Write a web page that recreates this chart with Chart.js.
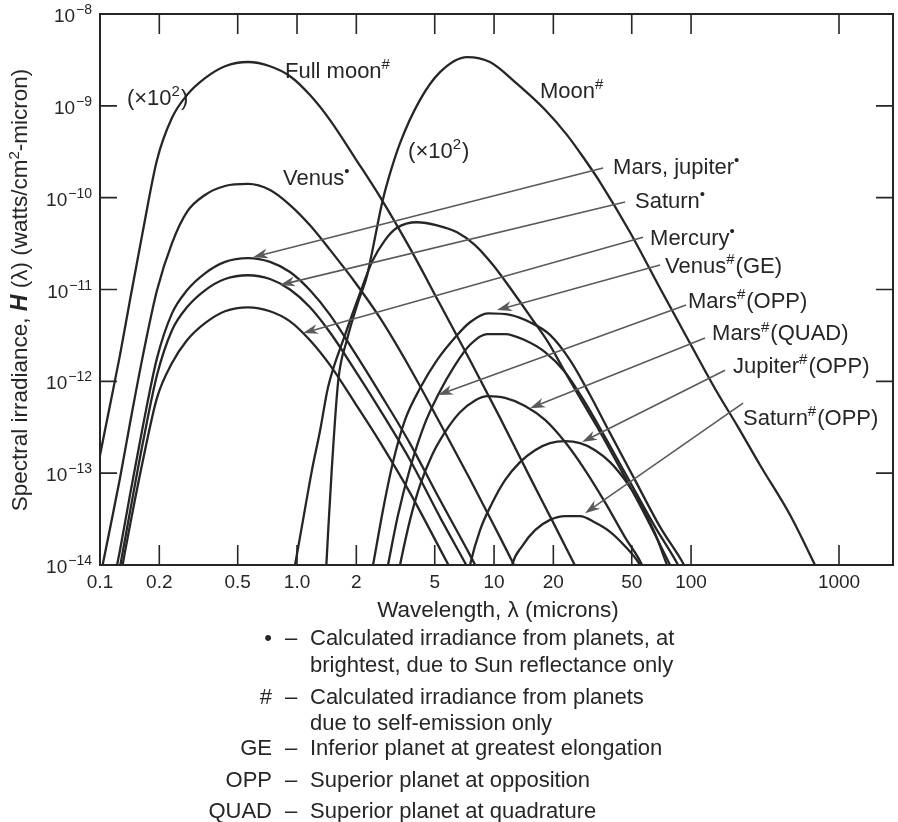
<!DOCTYPE html>
<html>
<head>
<meta charset="utf-8">
<title>Spectral irradiance of the Moon and planets</title>
<script src="https://cdn.jsdelivr.net/npm/chart.js@4.4.1/dist/chart.umd.min.js"></script>
<style>
  html, body { margin: 0; padding: 0; background: #fff; }
  #page { position: relative; width: 898px; height: 822px; overflow: hidden;
          font-family: "Liberation Sans", Arial, Helvetica, sans-serif; color: #262626; }
  #plot { position: absolute; left: 0; top: 0; width: 898px; height: 630px; }
  .fn { position: absolute; left: 0; width: 898px; height: 24px; font-size: 22px; line-height: 24px; white-space: nowrap; }
  .fn .k { position: absolute; right: 626px; }
  .fn .d { position: absolute; left: 285px; }
  .fn .t { position: absolute; left: 310px; }
</style>
</head>
<body>
<div id="page">
  <div id="plot"><canvas id="chartIrradiance"></canvas></div>
  <div class="fn" style="top:626px"><span class="k">•</span><span class="d">–</span><span class="t">Calculated irradiance from planets, at</span></div>
  <div class="fn" style="top:653px"><span class="t">brightest, due to Sun reflectance only</span></div>
  <div class="fn" style="top:685px"><span class="k">#</span><span class="d">–</span><span class="t">Calculated irradiance from planets</span></div>
  <div class="fn" style="top:711px"><span class="t">due to self-emission only</span></div>
  <div class="fn" style="top:736px"><span class="k">GE</span><span class="d">–</span><span class="t">Inferior planet at greatest elongation</span></div>
  <div class="fn" style="top:768px"><span class="k">OPP</span><span class="d">–</span><span class="t">Superior planet at opposition</span></div>
  <div class="fn" style="top:799px"><span class="k">QUAD</span><span class="d">–</span><span class="t">Superior planet at quadrature</span></div>
</div>
<script>
const family = '"Liberation Sans", Arial, Helvetica, sans-serif';
const ink = '#262626';

// axis ticks
const xTickValues = [0.1, 0.2, 0.5, 1, 2, 5, 10, 20, 50, 100, 1000];
const xTickLabels = ['0.1', '0.2', '0.5', '1.0', '2', '5', '10', '20', '50', '100', '1000'];
const yTickValues = [1e-14, 1e-13, 1e-12, 1e-11, 1e-10, 1e-9, 1e-8];

// reflected sunlight curves (wavelength in microns, H in watts/cm2-micron)
const reflLambda = [0.1, 0.1124, 0.1263, 0.142, 0.1653, 0.1947, 0.232, 0.2764, 0.3412, 0.431, 0.564, 0.7294,
  0.9215, 1.164, 1.471, 1.97, 2.638, 3.747, 5.321, 7.552, 10.73, 15.23, 20.4, 27.33];
const fullMoonRefl = [1.57e-13, 5.5e-13, 1.93e-12, 7.7e-12, 4.4e-11, 2.57e-10, 7.4e-10, 1.31e-9, 2.0e-9, 2.7e-9, 3.0e-9, 2.7e-9,
  2.1e-9, 1.31e-9, 7.0e-10, 2.7e-10, 1.02e-10, 2.8e-11, 6.9e-12, 1.7e-12, 4.0e-13, 9.0e-14, 2.65e-14, 7.7e-15];
const venusRefl = [7.2e-15, 2.5e-14, 8.8e-14, 3.5e-13, 1.93e-12, 9.8e-12, 3.2e-11, 7.0e-11, 1.07e-10, 1.34e-10, 1.41e-10, 1.21e-10,
  8.3e-11, 5.0e-11, 2.7e-11, 1.2e-11, 4.9e-12, 1.39e-12, 3.5e-13, 8.6e-14, 2.0e-14, 4.6e-15, 1.5e-15, 4e-16];
const marsJupiterRefl = [1.2e-15, 4.1e-15, 1.45e-14, 5.8e-14, 3.3e-13, 1.79e-12, 5.5e-12, 9.8e-12, 1.5e-11, 2.0e-11, 2.2e-11, 2.0e-11,
  1.55e-11, 9.8e-12, 5.3e-12, 2.03e-12, 7.4e-13, 2.1e-13, 5.1e-14, 1.28e-14, 3.0e-15, 7e-16, 1.5e-16, 3e-17];
const saturnRefl = [7.7e-16, 2.7e-15, 9.5e-15, 3.8e-14, 2.18e-13, 1.17e-12, 3.6e-12, 6.4e-12, 9.8e-12, 1.3e-11, 1.43e-11, 1.3e-11,
  1.0e-11, 6.4e-12, 3.4e-12, 1.32e-12, 4.9e-13, 1.39e-13, 3.3e-14, 8.4e-15, 1.95e-15, 4.7e-16, 1e-16, 2e-17];
const mercuryRefl = [3.4e-16, 1.2e-15, 6.8e-15, 2.7e-14, 1.39e-13, 6.6e-13, 1.58e-12, 2.8e-12, 4.3e-12, 5.8e-12, 6.4e-12, 5.8e-12,
  4.5e-12, 2.8e-12, 1.5e-12, 5.8e-13, 2.18e-13, 6.1e-14, 1.49e-14, 3.6e-15, 8.5e-16, 2e-16, 5e-17, 1e-17];

// self-emission curves
const moonLambda = [1.40, 1.44, 1.50, 1.62, 1.79, 2.02, 2.27, 2.40, 2.55, 2.70, 2.90, 3.33, 4.21, 5.32, 7.30,
  9.54, 13.1, 18.2, 23.5, 29.0, 34.5, 49.0, 69.6, 98.8, 150, 205, 293, 467, 688, 744];
const moonEmis = [7.7e-15, 2.4e-14, 1.08e-13, 1.03e-12, 2.8e-12, 6.8e-12, 1.43e-11, 2.5e-11, 4.8e-11, 8.7e-11, 1.56e-10, 3.9e-10, 1.16e-9, 2.33e-9, 3.4e-9,
  3.0e-9, 1.73e-9, 9.0e-10, 4.8e-10, 2.57e-10, 1.48e-10, 4.2e-11, 1.03e-11, 2.6e-12, 7.6e-13, 3.3e-13, 1.22e-13, 3.5e-14, 1.0e-14, 7.7e-15];
const hotLambda = [0.954, 0.977, 1.073, 1.191, 1.309, 1.437, 1.753, 2.088, 2.403, 2.797, 3.218, 4.065, 5.136,
  6.49, 8.009, 9.884, 12.49, 15.78, 18.8, 22.94, 27.33, 33.33, 43.62, 58.41, 78.23, 82.94];
const hotEmis = [7.7e-15, 1.0e-14, 3.1e-14, 1.08e-13, 2.9e-13, 8.6e-13, 3.2e-12, 9.1e-12, 2.0e-11, 3.45e-11, 4.7e-11, 5.4e-11, 5.0e-11,
  4.2e-11, 3.05e-11, 1.85e-11, 9.4e-12, 4.6e-12, 2.67e-12, 1.26e-12, 6.6e-13, 3.2e-13, 1.13e-13, 3.5e-14, 1.0e-14, 7.7e-15];
const venusGELambda = [2.375, 2.431, 2.733, 3.071, 3.534, 4.211, 5.136, 6.34, 7.552, 9.322, 12.06, 15.23, 19.24, 24.31,
  30.71, 38.8, 51.96, 69.6, 92.15, 97.68];
const venusGEEmis = [7.7e-15, 1.0e-14, 4.0e-14, 1.32e-13, 3.8e-13, 8.4e-13, 1.7e-12, 3.0e-12, 4.4e-12, 5.5e-12, 5.3e-12, 4.4e-12, 3.2e-12, 1.7e-12,
  7.1e-13, 2.73e-13, 8.4e-14, 2.6e-14, 1.0e-14, 7.7e-15];
const marsOppLambda = [2.83, 2.897, 3.256, 3.747, 4.414, 5.196, 6.34, 7.552, 9.215, 11.37, 14.37, 18.15, 22.94, 28.97,
  36.61, 49.03, 65.67, 85.9, 91.08];
const marsOppEmis = [7.7e-15, 1.0e-14, 3.5e-14, 1.13e-13, 3.3e-13, 7.1e-13, 1.5e-12, 2.5e-12, 3.27e-12, 3.27e-12, 2.8e-12, 2.08e-12, 1.26e-12, 5.9e-13,
  2.47e-13, 8.0e-14, 2.6e-14, 1.0e-14, 7.7e-15];
const marsQuadLambda = [3.256, 3.333, 3.747, 4.211, 4.844, 5.64, 6.721, 8.009, 9.322, 11.37, 14.37, 18.15, 22.94, 28.97,
  36.61, 46.24, 56.4, 59.09];
const marsQuadEmis = [7.7e-15, 1.0e-14, 3.1e-14, 7.4e-14, 1.57e-13, 2.8e-13, 4.6e-13, 6.2e-13, 6.9e-13, 6.6e-13, 5.4e-13, 3.8e-13, 2.18e-13, 1.08e-13,
  4.8e-14, 2.0e-14, 1.0e-14, 7.7e-15];
const jupiterLambda = [7.379, 7.552, 8.492, 9.768, 11.37, 13.55, 16.15, 19.24, 22.94, 27.33, 32.56, 38.8, 46.24, 55.09, 65.67, 75.51, 79.15];
const jupiterEmis = [7.7e-15, 1.0e-14, 2.4e-14, 4.7e-14, 8.4e-14, 1.32e-13, 1.78e-13, 2.12e-13, 2.23e-13, 2.12e-13, 1.78e-13, 1.32e-13, 8.4e-14, 4.7e-14, 2.2e-14, 1.0e-14, 7.7e-15];
const saturnLambda = [12.06, 12.34, 13.87, 16.15, 19.24, 22.94, 27.33, 32.56, 38.8, 46.24, 55.09, 58.41];
const saturnEmis = [7.7e-15, 1.0e-14, 1.6e-14, 2.4e-14, 3.1e-14, 3.4e-14, 3.4e-14, 2.9e-14, 2.3e-14, 1.6e-14, 1.0e-14, 7.7e-15];

// labels and arrows, anchored in data units (wavelength, H); ^..^ marks superscript
const callouts = [
  { text: 'Mars, jupiter^•', at: [40.2, 2.21e-10], from: [35.75, 2.1e-10], to: [0.598, 2.25e-11] },
  { text: 'Saturn^•', at: [51.96, 9.4e-11], from: [46.24, 8.95e-11], to: [0.82, 1.12e-11] },
  { text: 'Mercury^•', at: [61.93, 3.7e-11], from: [57.06, 3.7e-11], to: [1.073, 3.35e-12] },
  { text: 'Venus^#^(GE)', at: [73.8, 1.85e-11], from: [69.6, 1.85e-11], to: [10.35, 5.97e-12] },
  { text: 'Mars^#^(OPP)', at: [96.5, 7.7e-12], from: [94.33, 6.76e-12], to: [5.196, 7.1e-13] },
  { text: 'Mars^#^(QUAD)', at: [138.7, 3.4e-12], from: [124.3, 2.96e-12], to: [15.23, 5.1e-13] },
  { text: 'Jupiter^#^(OPP)', at: [192.2, 1.5e-12], from: [169.7, 1.32e-12], to: [27.97, 2.18e-13] },
  { text: 'Saturn^#^(OPP)', at: [224.6, 4.1e-13], from: [224.6, 5.8e-13], to: [28.97, 3.66e-14] }
];
const plainLabels = [
  { text: 'Full moon^#', at: [0.869, 2.45e-9] },
  { text: '(×10^2^)', at: [0.137, 1.25e-9] },
  { text: 'Venus^•', at: [0.849, 1.68e-10] },
  { text: '(×10^2^)', at: [3.661, 3.3e-10] },
  { text: 'Moon^#', at: [17.12, 1.49e-9] }
];

// log10 axis, squeezed beyond 100 microns as in the printed figure
function xPos(lambda) {
  const l = Math.log10(lambda);
  return l <= 2 ? l : 2 + (l - 2) * 0.751;
}

const curves = [
  [reflLambda, fullMoonRefl], [reflLambda, venusRefl], [reflLambda, marsJupiterRefl],
  [reflLambda, saturnRefl], [reflLambda, mercuryRefl],
  [moonLambda, moonEmis], [hotLambda, hotEmis], [venusGELambda, venusGEEmis], [marsOppLambda, marsOppEmis],
  [marsQuadLambda, marsQuadEmis], [jupiterLambda, jupiterEmis], [saturnLambda, saturnEmis]
];

function drawRich(ctx, text, x, cy, size) {
  const supSize = Math.round(size * 0.66);
  let cx = x;
  text.split('^').forEach((part, i) => {
    if (!part) return;
    const sup = i % 2 === 1;
    ctx.font = `${sup ? supSize : size}px ${family}`;
    ctx.fillText(part, cx, sup ? cy - 1 : cy + size * 0.36);
    cx += ctx.measureText(part).width + (sup ? 1 : 0);
  });
}

function drawArrow(ctx, x0, y0, x1, y1) {
  const ang = Math.atan2(y1 - y0, x1 - x0);
  const c = Math.cos(ang), s = Math.sin(ang);
  const L = 15, W = 5;
  ctx.beginPath();
  ctx.moveTo(x0, y0);
  ctx.lineTo(x1 - c * 8, y1 - s * 8);
  ctx.stroke();
  ctx.beginPath();
  ctx.moveTo(x1, y1);
  ctx.lineTo(x1 - c * L - s * W, y1 - s * L + c * W);
  ctx.lineTo(x1 - c * L * 0.7, y1 - s * L * 0.7);
  ctx.lineTo(x1 - c * L + s * W, y1 - s * L - c * W);
  ctx.closePath();
  ctx.fill();
}

const decorations = {
  id: 'decorations',
  afterDraw(chart) {
    const { ctx, chartArea: a, scales: { x, y } } = chart;
    const px = (l) => x.getPixelForValue(xPos(l));
    ctx.save();

    // frame and inward ticks
    ctx.strokeStyle = ink;
    ctx.lineWidth = 2;
    ctx.strokeRect(a.left, a.top, a.right - a.left, a.bottom - a.top);
    ctx.lineWidth = 1.6;
    ctx.beginPath();
    xTickValues.slice(1).forEach(v => {
      const p = px(v);
      ctx.moveTo(p, a.bottom); ctx.lineTo(p, a.bottom - 20);
      ctx.moveTo(p, a.top); ctx.lineTo(p, a.top + 20);
    });
    yTickValues.slice(1, -1).forEach(v => {
      const p = y.getPixelForValue(v);
      ctx.moveTo(a.left, p); ctx.lineTo(a.left + 17, p);
      ctx.moveTo(a.right, p); ctx.lineTo(a.right - 17, p);
    });
    ctx.stroke();

    // y tick labels as powers of ten
    ctx.fillStyle = ink;
    ctx.textBaseline = 'alphabetic';
    ctx.textAlign = 'left';
    yTickValues.forEach(v => {
      const cy = y.getPixelForValue(v) + 1;
      const sup = '\u2212' + Math.abs(Math.round(Math.log10(v)));
      ctx.font = `19px ${family}`;
      const wb = ctx.measureText('10').width;
      ctx.font = `14px ${family}`;
      const ws = ctx.measureText(sup).width;
      const x0 = a.left - 8 - wb - ws - 1;
      ctx.font = `19px ${family}`;
      ctx.fillText('10', x0, cy + 7);
      ctx.font = `14px ${family}`;
      ctx.fillText(sup, x0 + wb + 1, cy - 1);
    });

    // axis titles
    ctx.font = `22.5px ${family}`;
    ctx.textAlign = 'center';
    ctx.fillText('Wavelength, \u03bb (microns)', 498, 617);
    ctx.textAlign = 'left';

    const parts = [
      ['Spectral irradiance, ', `22.5px ${family}`, 0],
      ['H', `italic bold 23px ${family}`, 0],
      [' (\u03bb) (watts/cm', `22.5px ${family}`, 0],
      ['2', `15px ${family}`, -8],
      ['-micron)', `22.5px ${family}`, 0]
    ];
    let total = 0;
    parts.forEach(p => { ctx.font = p[1]; total += ctx.measureText(p[0]).width; });
    ctx.save();
    ctx.translate(19, 290);
    ctx.rotate(-Math.PI / 2);
    let cx = -total / 2;
    parts.forEach(p => {
      ctx.font = p[1];
      ctx.fillText(p[0], cx, 8 + p[2]);
      cx += ctx.measureText(p[0]).width;
    });
    ctx.restore();

    // callout arrows
    ctx.strokeStyle = '#5a5a5a';
    ctx.fillStyle = '#5a5a5a';
    ctx.lineWidth = 1.6;
    callouts.forEach(c => {
      drawArrow(ctx, px(c.from[0]), y.getPixelForValue(c.from[1]), px(c.to[0]), y.getPixelForValue(c.to[1]));
    });

    // text labels
    ctx.fillStyle = ink;
    callouts.concat(plainLabels).forEach(c => {
      drawRich(ctx, c.text, px(c.at[0]), y.getPixelForValue(c.at[1]), 22);
    });
    ctx.restore();
  }
};

new Chart(document.getElementById('chartIrradiance'), {
  type: 'scatter',
  data: {
    datasets: curves.map(([lx, hy]) => ({
      data: lx.map((l, i) => ({ x: xPos(l), y: hy[i] })),
      showLine: true,
      borderColor: ink,
      borderWidth: 2.3,
      pointRadius: 0,
      cubicInterpolationMode: 'monotone',
      clip: 0
    }))
  },
  options: {
    responsive: true,
    maintainAspectRatio: false,
    animation: false,
    layout: { padding: { top: 14, right: 5, left: 0, bottom: 0 } },
    plugins: { legend: { display: false }, tooltip: { enabled: false } },
    scales: {
      x: {
        type: 'linear',
        min: -1,
        max: 3.025,
        afterBuildTicks: (scale) => { scale.ticks = xTickValues.map(v => ({ value: xPos(v) })); },
        afterFit: (scale) => { scale.height = 65; },
        ticks: {
          callback: (value, index) => xTickLabels[index],
          autoSkip: false,
          maxRotation: 0,
          padding: 6,
          color: ink,
          font: { size: 19, family: family }
        },
        grid: { display: false, drawTicks: false },
        border: { display: false }
      },
      y: {
        type: 'logarithmic',
        min: 1e-14,
        max: 1e-8,
        afterFit: (scale) => { scale.width = 100; },
        ticks: { display: false },
        grid: { display: false, drawTicks: false },
        border: { display: false }
      }
    }
  },
  plugins: [decorations]
});
</script>
</body>
</html>
